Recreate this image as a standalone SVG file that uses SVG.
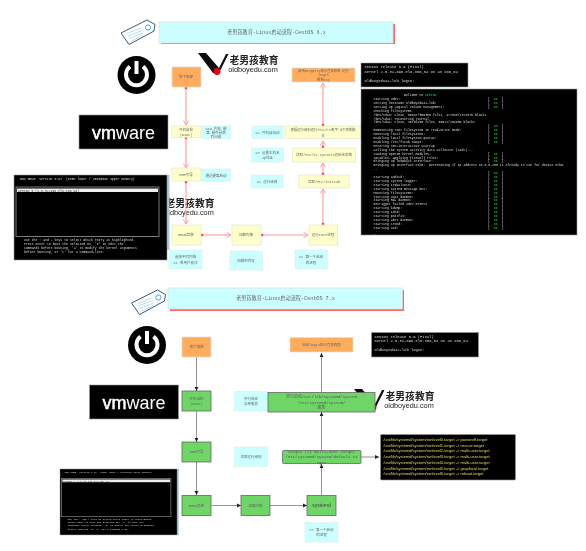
<svg xmlns="http://www.w3.org/2000/svg" xmlns:xlink="http://www.w3.org/1999/xlink" width="586" height="551" viewBox="0 0 586 551">
<style>
text{font-family:"Liberation Mono","Noto Sans CJK SC",monospace;font-size:3.5px;fill:#666;text-anchor:middle}
.o{fill:#ffad5c;stroke:#ddd;stroke-width:.7}
.y{fill:#ffffcc;stroke:#e4e4d0;stroke-width:.7}
.c{fill:#ccffff;stroke:#e0eeee;stroke-width:.7}
.g{fill:#6ed566;stroke:#666;stroke-width:.8}
.t{fill:#ccffff;stroke:#ddd;stroke-width:.7}
.s{fill:#ff6666}
.k{fill:#000;stroke:#999;stroke-width:.6}
.m{font-size:3.2px;fill:#ddd;text-anchor:start;white-space:pre}
.h{font-size:3.800px}
.r{font-family:"Liberation Sans",sans-serif;font-size:4.050px;fill:#dd6;text-anchor:start}
.lg{font-family:"Liberation Sans","Noto Sans CJK SC",sans-serif;fill:#222}
.p{stroke:#ff9999;stroke-width:1.100;fill:none;marker-start:url(#dot);marker-end:url(#open)}
.b{stroke:#888;stroke-width:.9;fill:none;marker-end:url(#tri)}
.tt{font-size:5.150px}
.gt{font-size:4px;fill:#555}
</style>
<defs>
<filter id="soft" x="0" y="0" width="100%" height="100%" filterUnits="userSpaceOnUse" primitiveUnits="userSpaceOnUse"><feGaussianBlur stdDeviation=".3"/></filter>
<marker id="dot" markerUnits="userSpaceOnUse" markerWidth="4" markerHeight="4" refX="2" refY="2"><circle cx="2" cy="2" r="1.3" fill="#ff3b3b"/></marker>
<marker id="open" markerUnits="userSpaceOnUse" markerWidth="7" markerHeight="7" refX="5.500" refY="3.500" orient="auto"><path d="M1 .8L5.500 3.500L1 6.200" fill="none" stroke="#ff9999" stroke-width=".9"/></marker>
<marker id="tri" markerUnits="userSpaceOnUse" markerWidth="5" markerHeight="5" refX="4" refY="2.500" orient="auto"><path d="M0 .6L4 2.500L0 4.400Z" fill="#222"/></marker>
<g id="tagicon"><path d="M121 33L147 20L155 24.500L154 31L129 44.500Z" fill="#fff" stroke="#3d5a73" stroke-width="1"/><circle cx="148" cy="27.500" r="2.600" fill="#fff" stroke="#4aa3e0" stroke-width="1"/><path d="M127 33.500L141 28M128 36L142 30.500M129 38.500L143 33M131 41L143 35.500" stroke="#8cc4ea" stroke-width=".6"/></g>
<g id="powericon"><circle cx="136.500" cy="75" r="19" fill="#000"/><path d="M130 66.500A10.500 10.500 0 1 0 143 66.500" fill="none" stroke="#fff" stroke-width="4"/><path d="M136.500 61V74" stroke="#fff" stroke-width="4"/></g>
<g id="vmlogo"><rect x="79" y="115" width="89" height="34" class="k"/><text x="123.500" y="139" style="font-family:'Liberation Sans',sans-serif;font-size:18px;fill:#fff"><tspan stroke="#fff" stroke-width=".5">vm</tspan><tspan>ware</tspan></text></g>
<g id="brand"><path d="M198 53H206L219 68L226 54H228.500L219 73H213Z" fill="#111"/><circle cx="217" cy="71.500" r="3.400" fill="#e0001b"/><text class="lg" x="254" y="64" style="font-size:9.800px;font-weight:bold">老男孩教育</text><text class="lg" x="253" y="72" style="font-size:7.300px">oldboyedu.com</text></g>
<g id="grubtext">
<rect width="153" height="85" class="k"/>
<text class="m" x="6" y="5">GNU GRUB  version 0.97  (635K lower / 2096056K upper memory)</text>
<rect x="2" y="12" width="143" height="49.500" fill="none" stroke="#999" stroke-width=".8"/>
<rect x="3" y="13.500" width="141" height="3.500" fill="#eee"/>
<text class="m" x="4" y="16.500" style="fill:#333">CentOS 6 (2.6.32-696.el6.x86_64)</text>
<text class="m" x="10" y="66">Use the ↑ and ↓ keys to select which entry is highlighted.</text>
<text class="m" x="10" y="70">Press enter to boot the selected OS, 'e' to edit the</text>
<text class="m" x="10" y="74">commands before booting, 'a' to modify the kernel arguments</text>
<text class="m" x="10" y="78">before booting, or 'c' for a command-line.</text>
</g>
</defs>
<g filter="url(#soft)">
<rect width="586" height="551" fill="#fff"/>
<g id="brand-logos">
<use xlink:href="#brand"/>
<use xlink:href="#brand" x="-64" y="143"/>
<use xlink:href="#brand" x="156" y="336"/>
</g>

<g id="connectors-top">
<path class="p" d="M186 88V125"/><path class="p" d="M186 138V168"/><path class="p" d="M186 182V224"/>
<path class="p" d="M202 235H231"/><path class="p" d="M262 235H308"/>
<path class="p" d="M323 224V189"/><path class="p" d="M323 174V163"/><path class="p" d="M323 147V141"/><path class="p" d="M323 125V83"/>
</g>
<g id="connectors-bottom">
<path class="b" d="M196.500 357V391"/><path class="b" d="M196.500 411V442"/><path class="b" d="M196.500 462V495"/>
<path class="b" d="M211 505.500H241"/><path class="b" d="M270 505.500H307"/>
<path class="b" d="M321.500 495V464"/><path class="b" d="M321.500 450V412"/><path class="b" d="M321.500 392V353"/>
<path class="b" d="M361 457H379"/>
</g>

<g id="title-top"><use xlink:href="#tagicon"/><rect x="161" y="24" width="234" height="20" class="s"/><rect x="159" y="22" width="234" height="21" class="t"/><text class="tt" x="276.500" y="34">老男孩教育-Linux启动流程-CentOS 6.x</text></g>
<g id="icons-top"><use xlink:href="#powericon"/><use xlink:href="#vmlogo"/></g>

<g id="n-power6"><rect x="172" y="67" width="29" height="20" class="o"/><text x="186" y="78.200">按下电源</text></g>
<g id="n-bios6"><rect x="172" y="126" width="29" height="11.500" class="y"/><text x="186" y="131">开机自检</text><text x="186" y="135.800">(BIOS)</text></g>
<g id="n-biosnote6"><rect x="202" y="126" width="28.500" height="12.500" class="c"/><text x="216" y="129.500">cpu 内存 硬</text><text x="216" y="133.500">盘 硬件是否</text><text x="216" y="137.500">有问题</text></g>
<g id="n-mbr6"><rect x="172" y="168" width="29" height="13" class="y"/><text x="186" y="175.800">MBR引导</text></g>
<g id="n-mbrnote6"><rect x="202" y="169" width="28.500" height="12.500" class="c"/><text x="216" y="176.500">通过硬盘启动</text></g>
<g id="n-grubshot6"><rect x="167" y="175" width="2.500" height="75" fill="#a8c8dc"/><use xlink:href="#grubtext" x="14" y="175"/></g>
<g id="n-grub6"><rect x="172" y="225" width="29" height="20" class="y"/><text x="186" y="236.200">GRUB菜单</text></g>
<g id="n-grubnote6"><rect x="169" y="250" width="33" height="19" class="c"/><text x="185.500" y="258.200">选择不同内核</text><text x="185.500" y="263.500">CS 单用户模式</text></g>
<g id="n-kernel6"><rect x="232" y="225" width="29" height="20" class="y"/><text x="246" y="236.200">加载内核</text></g>
<g id="n-kernelnote6"><rect x="230" y="251" width="32.500" height="19" class="c"/><text x="246" y="261.700">加载到内存</text></g>
<g id="n-init6"><rect x="309" y="225" width="28.500" height="20" class="y"/><text x="323" y="236.200">运行INIT进程</text></g>
<g id="n-initnote6"><rect x="295" y="250" width="32.500" height="19" class="c"/><text x="311" y="258.200">CS 第一个启动</text><text x="311" y="263.500">的进程</text></g>
<g id="n-inittab"><rect x="299" y="175" width="50" height="13" class="y"/><text x="324" y="182.800">读取/etc/inittab</text></g>
<g id="n-level"><rect x="251" y="175" width="32" height="13" class="c"/><text x="267" y="182.800">CS 运行级别</text></g>
<g id="n-sysinit"><rect x="292.500" y="148" width="63" height="14" class="y"/><text x="324" y="156.200">读取/etc/rc.sysinit初始化系统</text></g>
<g id="n-host"><rect x="251.500" y="148" width="32" height="14" class="c"/><text x="267.500" y="154">CS 设置主机名</text><text x="267.500" y="159">ip地址</text></g>
<g id="n-rc"><rect x="285" y="126" width="76" height="12.500" class="y"/><text x="323" y="131" style="font-size:3.350px">根据运行级别运行/etc/rc数字.d下面的脚</text><text x="323" y="136.500">本</text></g>
<g id="n-auto"><rect x="252" y="126" width="31" height="12.500" class="c"/><text x="267.500" y="133.500">CS 开机自启动</text></g>
<g id="n-login6"><rect x="292" y="68" width="63" height="14" class="o"/><text x="323.500" y="71.500" style="font-size:3.300px">调用mingetty显示登录界面 运行</text><text x="323.500" y="76">login</text><text x="323.500" y="80.500">喂狗tty</text></g>

<g id="n-loginshot6"><rect x="361" y="63" width="107" height="24" class="k"/>
<text class="m h" x="364.500" y="68">CentOS release 6.9 (Final)</text>
<text class="m h" x="364.500" y="72.500">Kernel 2.6.32-696.el6.x86_64 on an x86_64</text>
<text class="m h" x="364.500" y="81.500">oldboyedu42-lnb login:</text></g>
<g id="n-bootshot"><rect x="361" y="89" width="216" height="146" class="k"/>
<text class="m" x="404" y="96">Welcome to <tspan style="fill:#3cc">CentOS</tspan></text>
<text class="m" x="373.500" y="100">Starting udev:</text>
<text class="m" x="373.500" y="103.900">Setting hostname oldboyedu42-lnb:</text>
<text class="m" x="373.500" y="107.800">Setting up Logical Volume Management:</text>
<text class="m" x="373.500" y="111.700">Checking filesystems</text>
<text class="m" x="373.500" y="115.600">/dev/sda3: clean, 55347/555360 files, 477543/2371575 blocks</text>
<text class="m" x="373.500" y="119.500">/dev/sda1: recovering journal</text>
<text class="m" x="373.500" y="123.400">/dev/sda1: clean, 35/51200 files, 50522/204800 blocks</text>
<text class="m" x="373.500" y="131.200">Remounting root filesystem in read-write mode:</text>
<text class="m" x="373.500" y="135.100">Mounting local filesystems:</text>
<text class="m" x="373.500" y="139">Enabling local filesystem quotas:</text>
<text class="m" x="373.500" y="142.900">Enabling /etc/fstab swaps:</text>
<text class="m" x="373.500" y="146.800">Entering non-interactive startup</text>
<text class="m" x="373.500" y="150.700">Calling the system activity data collector (sadc)...</text>
<text class="m" x="373.500" y="154.600">Loading OpenIB kernel modules:</text>
<text class="m" x="373.500" y="158.500">iptables: Applying firewall rules:</text>
<text class="m" x="373.500" y="162.400">Bringing up loopback interface:</text>
<text class="m" x="373.500" y="166.300">Bringing up interface eth0:  Determining if ip address 10.0.0.200 is already in use for device eth0.</text>
<text class="m" x="373.500" y="170.200">..</text>
<text class="m" x="373.500" y="178">Starting auditd:</text>
<text class="m" x="373.500" y="181.900">Starting system logger:</text>
<text class="m" x="373.500" y="185.800">Starting irqbalance:</text>
<text class="m" x="373.500" y="189.700">Starting system message bus:</text>
<text class="m" x="373.500" y="193.600">Mounting filesystems:</text>
<text class="m" x="373.500" y="197.500">Starting acpi daemon:</text>
<text class="m" x="373.500" y="201.400">Starting HAL daemon:</text>
<text class="m" x="373.500" y="205.300">Retrigger failed udev events</text>
<text class="m" x="373.500" y="209.200">Starting kdump:</text>
<text class="m" x="373.500" y="213.100">Starting sshd:</text>
<text class="m" x="373.500" y="217">Starting postfix:</text>
<text class="m" x="373.500" y="220.900">Starting abrt daemon:</text>
<text class="m" x="373.500" y="224.800">Starting crond:</text>
<text class="m" x="373.500" y="228.700">Starting atd:</text>
<text class="m" x="373.500" y="233.500">_</text>
<g id="oks">
<text class="m" x="488" y="100">[  <tspan style="fill:#3c3">OK</tspan>  ]</text>
<text class="m" x="488" y="103.900">[  <tspan style="fill:#3c3">OK</tspan>  ]</text>
<text class="m" x="488" y="107.800">[  <tspan style="fill:#3c3">OK</tspan>  ]</text>
<text class="m" x="488" y="127.300">[  <tspan style="fill:#3c3">OK</tspan>  ]</text>
<text class="m" x="488" y="131.200">[  <tspan style="fill:#3c3">OK</tspan>  ]</text>
<text class="m" x="488" y="135.100">[  <tspan style="fill:#3c3">OK</tspan>  ]</text>
<text class="m" x="488" y="139">[  <tspan style="fill:#3c3">OK</tspan>  ]</text>
<text class="m" x="488" y="142.900">[  <tspan style="fill:#3c3">OK</tspan>  ]</text>
<text class="m" x="488" y="154.600">[  <tspan style="fill:#3c3">OK</tspan>  ]</text>
<text class="m" x="488" y="158.500">[  <tspan style="fill:#3c3">OK</tspan>  ]</text>
<text class="m" x="488" y="162.400">[  <tspan style="fill:#3c3">OK</tspan>  ]</text>
<text class="m" x="488" y="174.100">[  <tspan style="fill:#3c3">OK</tspan>  ]</text>
<text class="m" x="488" y="178">[  <tspan style="fill:#3c3">OK</tspan>  ]</text>
<text class="m" x="488" y="181.900">[  <tspan style="fill:#3c3">OK</tspan>  ]</text>
<text class="m" x="488" y="185.800">[  <tspan style="fill:#3c3">OK</tspan>  ]</text>
<text class="m" x="488" y="189.700">[  <tspan style="fill:#3c3">OK</tspan>  ]</text>
<text class="m" x="488" y="193.600">[  <tspan style="fill:#3c3">OK</tspan>  ]</text>
<text class="m" x="488" y="197.500">[  <tspan style="fill:#3c3">OK</tspan>  ]</text>
<text class="m" x="488" y="201.400">[  <tspan style="fill:#3c3">OK</tspan>  ]</text>
<text class="m" x="488" y="205.300">[  <tspan style="fill:#3c3">OK</tspan>  ]</text>
<text class="m" x="488" y="209.200">[  <tspan style="fill:#3c3">OK</tspan>  ]</text>
<text class="m" x="488" y="213.100">[  <tspan style="fill:#3c3">OK</tspan>  ]</text>
<text class="m" x="488" y="217">[  <tspan style="fill:#3c3">OK</tspan>  ]</text>
<text class="m" x="488" y="220.900">[  <tspan style="fill:#3c3">OK</tspan>  ]</text>
<text class="m" x="488" y="224.800">[  <tspan style="fill:#3c3">OK</tspan>  ]</text>
<text class="m" x="488" y="228.700">[  <tspan style="fill:#3c3">OK</tspan>  ]</text>
</g></g>

<g id="title-bottom"><use xlink:href="#tagicon" x="10.500" y="270"/><rect x="170" y="290" width="234" height="21" class="s"/><rect x="168" y="288" width="234.500" height="21" class="t"/><text class="tt" x="285.500" y="300">老男孩教育-Linux启动流程-CentOS 7.x</text></g>
<g id="icons-bottom"><use xlink:href="#powericon" x="10.500" y="270"/><use xlink:href="#vmlogo" x="10.500" y="270"/></g>

<g id="n-power7"><rect x="182" y="337" width="29" height="20" class="o"/><text x="196.500" y="348.200">按下电源</text></g>
<g id="n-bios7"><rect x="182" y="391" width="29" height="20" class="g"/><text x="196.500" y="399.800">开机自检</text><text x="196.500" y="405">(BIOS)</text></g>
<g id="n-mbr7"><rect x="182" y="442" width="29" height="20" class="g"/><text x="196.500" y="453.200">MBR引导</text></g>
<g id="n-grubshot7"><rect x="177" y="469" width="1.800" height="66" fill="#a8c8dc"/><g transform="translate(60 469) scale(.765 .776)"><use xlink:href="#grubtext"/></g></g>
<g id="n-grub7"><rect x="182" y="495.500" width="29" height="20" class="g"/><text x="196.500" y="506.700">GRUB菜单</text></g>
<g id="n-kernel7"><rect x="241" y="495.500" width="29" height="20" class="g"/><text x="255.500" y="506.700">加载内核</text></g>
<g id="n-systemd"><rect x="307" y="495.500" width="29" height="20" class="g"/><text x="321.500" y="507.300" style="font-family:'Liberation Sans',sans-serif;font-size:5px;fill:#444">systemd</text></g>
<g id="n-first7"><rect x="305" y="522.500" width="33" height="19.500" class="c"/><text x="321.500" y="530.800">C7 第一个启动</text><text x="321.500" y="536">的进程</text></g>
<g id="n-targetnote"><rect x="234.500" y="447" width="33" height="19.500" class="c"/><text x="251" y="458">读取运行级别</text></g>
<g id="n-target"><rect x="282.500" y="450.500" width="78.500" height="13" rx="1" class="g"/><text class="gt" x="321.500" y="452.500">target (7)   multi-user.target</text><text class="gt" x="321.500" y="458.300">/etc/systemd/system/default.ta</text><text class="gt" x="321.500" y="464.300">rget</text></g>
<g id="n-servnote"><rect x="234.500" y="391.500" width="33" height="19.500" class="c"/><text x="251" y="399.500">并行启动</text><text x="251" y="404.800">各种服务</text></g>
<g id="n-parallel"><rect x="268" y="392.500" width="107" height="19.500" class="g"/><text class="gt" x="321.500" y="398">并行启动/usr/lib/systemd/system</text><text class="gt" x="321.500" y="403.500">/etc/systemd/system/</text><text class="gt" x="321.500" y="409">服务</text></g>
<g id="n-login7"><rect x="290" y="337.500" width="63" height="14.500" class="o"/><text x="321.500" y="346">启动login显示登录界面</text></g>
<g id="n-loginshot7"><rect x="371.500" y="332.500" width="107" height="24.500" class="k"/>
<text class="m h" x="374.500" y="337.500">CentOS release 6.9 (Final)</text>
<text class="m h" x="374.500" y="342">Kernel 2.6.32-696.el6.x86_64 on an x86_64</text>
<text class="m h" x="374.500" y="351">oldboyedu42-lnb login:</text></g>
<g id="n-runlevel"><rect x="380.500" y="434.500" width="135" height="45.500" rx="1" class="k"/>
<text class="r" x="383.500" y="441">/usr/lib/systemd/system/runlevel0.target -&gt; poweroff.target</text>
<text class="r" x="383.500" y="446.700">/usr/lib/systemd/system/runlevel1.target -&gt; rescue.target</text>
<text class="r" x="383.500" y="452.400">/usr/lib/systemd/system/runlevel2.target -&gt; multi-user.target</text>
<text class="r" x="383.500" y="458.100">/usr/lib/systemd/system/runlevel3.target -&gt; multi-user.target</text>
<text class="r" x="383.500" y="463.800">/usr/lib/systemd/system/runlevel4.target -&gt; multi-user.target</text>
<text class="r" x="383.500" y="469.500">/usr/lib/systemd/system/runlevel5.target -&gt; graphical.target</text>
<text class="r" x="383.500" y="475.200">/usr/lib/systemd/system/runlevel6.target -&gt; reboot.target</text></g>
</g>
</svg>
